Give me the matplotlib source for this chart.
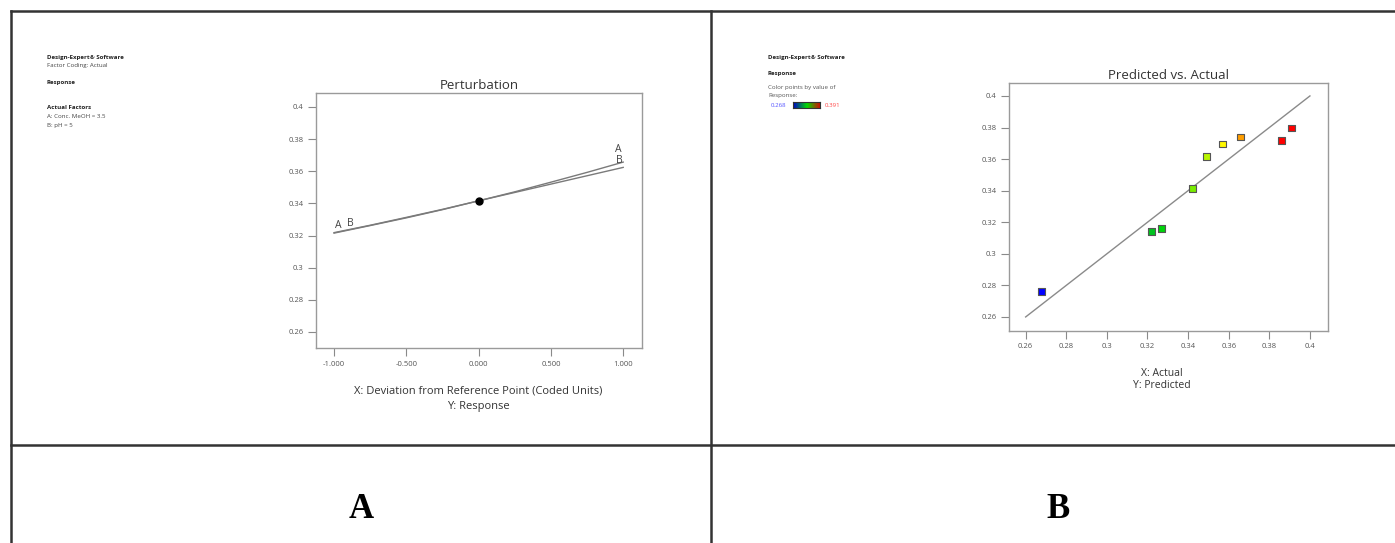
import numpy as np
import matplotlib.pyplot as plt
from matplotlib.colors import LinearSegmentedColormap

W, H = 1395, 543

# perturbation traces (coded deviation vs response)
dev = [-1.0, -0.75, -0.5, -0.25, 0.0, 0.25, 0.5, 0.75, 1.0]
resp_A = [0.3215, 0.3262, 0.3310, 0.3361, 0.3416, 0.3472, 0.3532, 0.3593, 0.3657]
resp_B = [0.3218, 0.3264, 0.3313, 0.3363, 0.3416, 0.3468, 0.3520, 0.3572, 0.3624]
ref_point = (0.0, 0.3416)

# predicted vs actual
actual = [0.268, 0.322, 0.327, 0.342, 0.349, 0.357, 0.366, 0.386, 0.391]
predicted = [0.276, 0.3142, 0.3158, 0.3416, 0.3618, 0.3696, 0.3740, 0.3717, 0.3797]

x_ticks_A = [-1.0, -0.5, 0.0, 0.5, 1.0]
x_labels_A = ["-1.000", "-0.500", "0.000", "0.500", "1.000"]
y_ticks = [0.26, 0.28, 0.30, 0.32, 0.34, 0.36, 0.38, 0.40]
y_labels = ["0.26", "0.28", "0.3", "0.32", "0.34", "0.36", "0.38", "0.4"]

plt.rcParams['font.family'] = ['Open Sans', 'DejaVu Sans']

fig = plt.figure(figsize=(W / 100, H / 100), dpi=100)


def px(x, y):
    return x / W, 1 - y / H


def ftext(x, y, s, **kw):
    fx, fy = px(x, y)
    fig.text(fx, fy, s, **kw)


# table borders
for xs, ys in [((11, 1395), (11, 11)), ((11, 11), (11, 543)), ((711, 711), (11, 543)),
               ((11, 1395), (445, 445))]:
    fig.add_artist(plt.Line2D([x / W for x in xs], [1 - y / H for y in ys],
                              color='#333333', lw=1.8))


def style_axes(ax):
    for sp in ax.spines.values():
        sp.set_color('#9a9a9a')
        sp.set_linewidth(1.0)
    ax.tick_params(direction='out', length=6, width=0.8, color='#8a8a8a',
                   labelsize=5.5, labelcolor='#555555', pad=3)


# ---- panel A: perturbation ----
axA = fig.add_axes([316 / W, 1 - 348 / H, 326 / W, 255 / H])
axA.plot(dev, resp_A, color='#7a7a7a', lw=1.0)
axA.plot(dev, resp_B, color='#7a7a7a', lw=1.0)
axA.plot(*ref_point, 'o', color='black', ms=5)
axA.text(-0.97, 0.3262, 'A', fontsize=7.5, color='#444444', ha='center', va='center')
axA.text(-0.89, 0.3272, 'B', fontsize=7.5, color='#444444', ha='center', va='center')
axA.text(0.965, 0.3733, 'A', fontsize=7.5, color='#444444', ha='center', va='center')
axA.text(0.97, 0.3667, 'B', fontsize=7.5, color='#444444', ha='center', va='center')
axA.set_xlim(-1.125, 1.13)
axA.set_ylim(0.25, 0.4087)
axA.set_xticks(x_ticks_A)
axA.set_xticklabels(x_labels_A)
axA.set_yticks(y_ticks)
axA.set_yticklabels(y_labels)
style_axes(axA)
axA.set_title('Perturbation', fontsize=9.5, color='#333333', pad=3)

ftext(478, 391, 'X: Deviation from Reference Point (Coded Units)', fontsize=8,
      color='#333333', ha='center', va='center')
ftext(478, 406, 'Y: Response', fontsize=8, color='#333333', ha='center', va='center')

ftext(47, 57, 'Design-Expert\u00ae Software', fontsize=4.4, weight='bold', color='#222222', va='center')
ftext(47, 66, 'Factor Coding: Actual', fontsize=4.4, color='#444444', va='center')
ftext(47, 83, 'Response', fontsize=4.4, weight='bold', color='#222222', va='center')
ftext(47, 108, 'Actual Factors', fontsize=4.4, weight='bold', color='#222222', va='center')
ftext(47, 117, 'A: Conc. MeOH = 3.5', fontsize=4.4, color='#444444', va='center')
ftext(47, 125, 'B: pH = 5', fontsize=4.4, color='#444444', va='center')

# ---- panel B: predicted vs actual ----
cmap = LinearSegmentedColormap.from_list(
    'de', [(0.0, '#0000ff'), (0.5, '#00dd00'), (0.72, '#ffff00'), (0.92, '#ff0000'), (1.0, '#ff0000')])
axB = fig.add_axes([1009 / W, 1 - 331 / H, 319 / W, 248 / H])
axB.plot([0.26, 0.40], [0.26, 0.40], color='#8a8a8a', lw=1.0)
axB.scatter(actual, predicted, c=actual, cmap=cmap, vmin=min(actual), vmax=max(actual),
            marker='s', s=24, edgecolors='#555555', linewidths=0.8, zorder=3)
axB.set_xlim(0.2518, 0.4089)
axB.set_ylim(0.2511, 0.4082)
axB.set_xticks(y_ticks)
axB.set_xticklabels(y_labels)
axB.set_yticks(y_ticks)
axB.set_yticklabels(y_labels)
style_axes(axB)
axB.set_title('Predicted vs. Actual', fontsize=9.5, color='#333333', pad=3)

ftext(1162, 373, 'X: Actual', fontsize=7.5, color='#333333', ha='center', va='center')
ftext(1162, 386, 'Y: Predicted', fontsize=7.5, color='#333333', ha='center', va='center')

ftext(768, 57, 'Design-Expert\u00ae Software', fontsize=4.4, weight='bold', color='#222222', va='center')
ftext(768, 73, 'Response', fontsize=4.4, weight='bold', color='#222222', va='center')
ftext(768, 88, 'Color points by value of', fontsize=4.4, color='#555555', va='center')
ftext(768, 95, 'Response:', fontsize=4.4, color='#555555', va='center')
ftext(771, 105, '%.3f' % min(actual), fontsize=4.4, color='#5555ff', va='center')
ftext(825, 105, '%.3f' % max(actual), fontsize=4.4, color='#ff4444', va='center')
cax = fig.add_axes([793 / W, 1 - 108 / H, 27 / W, 6 / H])
cax.imshow(np.linspace(0, 1, 64)[None, :], aspect='auto',
           cmap=LinearSegmentedColormap.from_list('leg', ['#0000cc', '#00dd00', '#dd0000']))
cax.set_xticks([])
cax.set_yticks([])
for sp in cax.spines.values():
    sp.set_color('#333333')
    sp.set_linewidth(0.8)

# ---- bottom row labels ----
ftext(361, 509, 'A', fontsize=25, weight='bold', family='Liberation Serif', ha='center', va='center')
ftext(1058, 509, 'B', fontsize=25, weight='bold', family='Liberation Serif', ha='center', va='center')

fig.savefig('out.png', dpi=100)
